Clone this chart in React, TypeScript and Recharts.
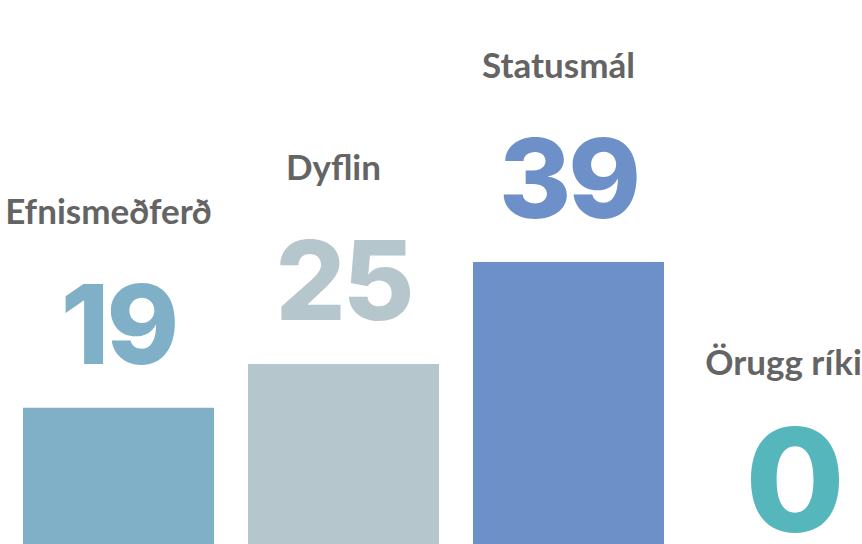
import React from "react";
import { BarChart, Bar, XAxis, YAxis, Cell } from "recharts";

const categories = ["Efnismeðferð", "Dyflin", "Statusmál", "Örugg ríki"];
const counts = [19, 25, 39, 0];

const COLORS = ["#7fb0c8", "#b6c6cd", "#6d90c8", "#55b6bc"];
const LABEL_FONT = "Lato, 'Noto Sans', sans-serif";
const NUM_FONT = "Inter, 'Noto Sans', sans-serif";

const data = categories.map((name, i) => ({ name, count: counts[i] }));

function BarLabel(props: any) {
  const { x, y, width, index, value } = props;
  const cx = Number(x) + Number(width) / 2;
  const top = Number(y);
  const zero = value === 0;
  return (
    <g>
      <text
        x={cx - 10}
        y={zero ? top - 170 : top - 184}
        textAnchor="middle"
        fill="#646464"
        fontFamily={LABEL_FONT}
        fontWeight={700}
        fontSize={35}
      >
        {categories[index]}
      </text>
      <text
        x={cx}
        y={zero ? top - 13 : top - 44}
        textAnchor="middle"
        fill={COLORS[index % COLORS.length]}
        fontFamily={NUM_FONT}
        fontWeight={800}
        fontSize={zero ? 144 : 110}
        letterSpacing={-3}
      >
        {value}
      </text>
    </g>
  );
}

export default function App() {
  return (
    <div style={{ width: 862, height: 544, overflow: "hidden", background: "#fff" }}>
      <style>{"body{margin:0}"}</style>
      <BarChart
        width={906}
        height={546}
        data={data}
        margin={{ top: 0, right: 0, left: 6, bottom: 0 }}
        barCategoryGap={17}
      >
        <XAxis dataKey="name" hide />
        <YAxis hide domain={[0, 75]} />
        <Bar
          dataKey="count"
          isAnimationActive={false}
          minPointSize={1}
          label={<BarLabel />}
        >
          {data.map((_, idx) => (
            <Cell key={idx} fill={COLORS[idx % COLORS.length]} />
          ))}
        </Bar>
      </BarChart>
    </div>
  );
}
